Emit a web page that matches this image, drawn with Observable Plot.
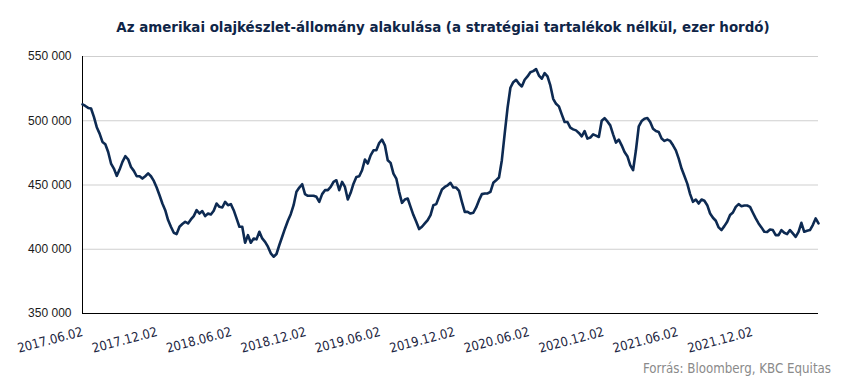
<!DOCTYPE html>
<html>
<head>
<meta charset="utf-8">
<script src="https://cdn.jsdelivr.net/npm/d3@7"></script>
<script src="https://cdn.jsdelivr.net/npm/@observablehq/plot@0.6"></script>
<style>
  html, body { margin: 0; padding: 0; background: #fff; }
  #wrap { position: relative; width: 850px; height: 383px; overflow: hidden; }
  #title { position: absolute; left: 0; top: 17px; width: 850px; text-align: center;
    font-family: "DejaVu Sans Condensed", "DejaVu Sans", sans-serif; font-weight: bold;
    font-size: 14.9px; line-height: 20px; color: #0f2547; padding-left: 36px; box-sizing: border-box; }
  #chart { position: absolute; left: 0; top: 45px; }
  #caption { position: absolute; right: 19px; top: 361px;
    font-family: "DejaVu Sans Condensed", "DejaVu Sans", sans-serif;
    font-size: 13.2px; line-height: 16px; color: #8a8a8a; }
</style>
</head>
<body>
<div id="wrap">
  <div id="title">Az amerikai olajkészlet-állomány alakulása (a stratégiai tartalékok nélkül, ezer hordó)</div>
  <div id="chart"></div>
  <div id="caption">Forrás: Bloomberg, KBC Equitas</div>
</div>
<script>
// Weekly series, first week 2017.06.02, values in million barrels (thousand × thousand barrels)
const startDate = "2017-06-02";
const stocksMillion = [
  512.7, 511.5, 510.0, 509.5, 503.0, 495.0, 490.0, 483.5, 481.7, 475.7,
  466.7, 462.8, 457.1, 462.0, 468.0, 472.4, 470.0, 464.0, 461.0, 456.8,
  456.8, 455.0, 456.8, 459.0, 456.8, 453.2, 448.0, 442.0, 435.6, 430.4,
  422.7, 417.5, 412.8, 411.8, 417.5, 419.6, 421.4, 420.1, 423.2, 425.8,
  430.4, 427.8, 429.7, 425.8, 427.8, 427.0, 429.9, 435.6, 433.0, 432.5,
  436.9, 434.3, 435.1, 430.4, 424.0, 417.5, 417.5, 405.1, 411.0, 405.1,
  408.4, 407.7, 413.6, 408.4, 405.8, 402.0, 396.8, 394.2, 396.3, 403.3,
  409.7, 416.2, 422.2, 427.3, 434.3, 444.7, 448.0, 450.6, 442.9, 441.6,
  441.6, 441.6, 440.8, 436.9, 442.9, 446.0, 446.0, 448.5, 452.4, 453.7,
  446.0, 452.4, 448.5, 438.7, 443.9, 451.0, 456.3, 456.8, 461.5, 469.8,
  466.7, 473.1, 477.0, 477.0, 482.7, 485.3, 480.9, 469.3, 467.2, 458.9,
  455.0, 444.7, 436.1, 438.7, 439.5, 433.0, 426.6, 421.4, 415.7, 417.5,
  420.1, 422.7, 426.6, 434.3, 435.1, 440.8, 446.5, 448.5, 449.8, 451.7,
  448.0, 448.0, 445.4, 436.9, 429.1, 429.1, 427.8, 428.4, 432.5, 438.2,
  442.9, 443.4, 443.4, 444.7, 451.7, 453.7, 455.8, 469.3, 490.0, 510.0,
  525.7, 530.0, 531.9, 528.8, 526.7, 531.9, 534.5, 537.8, 538.6, 540.2,
  535.2, 532.7, 537.1, 534.5, 527.5, 517.1, 513.2, 511.2, 505.0, 499.0,
  499.0, 494.6, 493.3, 492.5, 490.5, 487.9, 492.0, 486.1, 486.9, 489.4,
  488.4, 487.4, 500.0, 502.0, 499.5, 496.4, 489.4, 483.0, 485.3, 480.9,
  475.7, 472.4, 465.4, 461.5, 477.0, 495.7, 499.8, 501.6, 502.1, 499.0,
  493.8, 492.0, 491.3, 486.1, 484.3, 485.3, 484.3, 480.9, 477.0, 470.5,
  462.8, 457.0, 451.1, 442.9, 436.9, 438.7, 435.6, 438.7, 437.7, 434.3,
  427.8, 424.5, 422.2, 417.0, 414.9, 418.0, 421.4, 426.6, 428.6, 433.0,
  435.1, 433.5, 434.0, 434.0, 433.0, 428.4, 424.0, 420.1, 417.0, 413.6,
  413.4, 415.4, 414.9, 411.0, 411.0, 414.9, 412.8, 411.8, 414.9, 412.3,
  409.7, 413.6, 420.6, 413.6, 414.4, 414.9, 418.8, 424.0, 420.1
];
const xTickLabels = ["2017.06.02", "2017.12.02", "2018.06.02", "2018.12.02", "2019.06.02",
  "2019.12.02", "2020.06.02", "2020.12.02", "2021.06.02", "2021.12.02"];
const yTicks = [350000, 400000, 450000, 500000, 550000];
const yGridTicks = [400000, 450000, 500000, 550000];

const start = new Date(startDate + "T00:00:00Z");
const data = stocksMillion.map((v, i) => ({ date: d3.utcDay.offset(start, 7 * i), value: v * 1000 }));
const end = data[data.length - 1].date;
const parseLabel = d3.utcParse("%Y.%m.%d");
const fmtLabel = d3.utcFormat("%Y.%m.%d");
const xTicks = xTickLabels.map(parseLabel);
const fmtY = v => d3.format(",")(v).replace(/,/g, " ");

const chart = Plot.plot({
  width: 850,
  height: 310,
  marginLeft: 82,
  marginRight: 32,
  marginTop: 11,
  marginBottom: 42,
  style: { background: "white", overflow: "visible" },
  x: { type: "utc", domain: [start, end] },
  y: { domain: [350000, 550000] },
  marks: [
    Plot.gridY(yGridTicks, { stroke: "#cfcfcf", strokeOpacity: 1 }),
    Plot.ruleY([350000], { stroke: "#000", strokeWidth: 1 }),
    Plot.ruleX([start], { stroke: "#000", strokeWidth: 1 }),
    Plot.axisY(yTicks, { tickSize: 0, tickPadding: 11, tickFormat: fmtY, label: null,
      fontFamily: "Liberation Sans, Arial, sans-serif", fontSize: 12, fill: "#1a1a1a" }),
    Plot.axisX(xTicks, { tickSize: 0, tickPadding: 18, tickRotate: -15, tickFormat: fmtLabel, label: null,
      fontFamily: "DejaVu Sans Condensed, DejaVu Sans, sans-serif", fontSize: 13, fill: "#1c2541" }),
    Plot.lineY(data, { x: "date", y: "value", stroke: "#0d2a52", strokeWidth: 2.6 })
  ]
});
document.getElementById("chart").appendChild(chart);
</script>
</body>
</html>
